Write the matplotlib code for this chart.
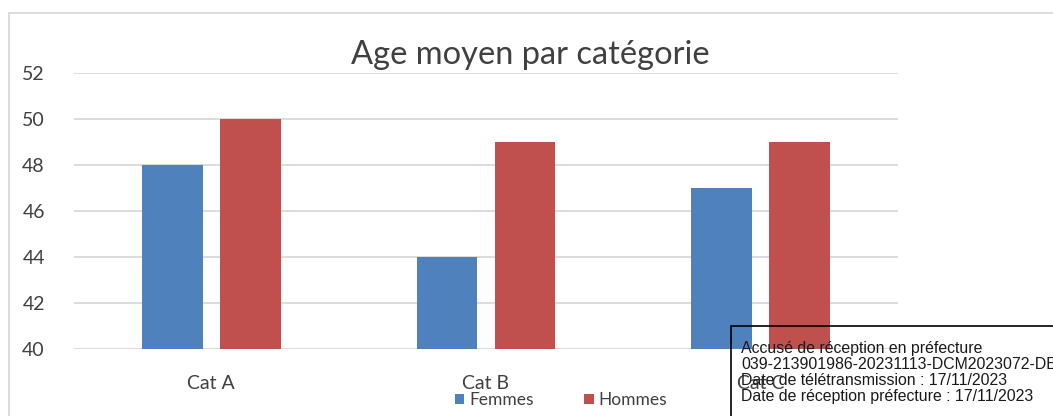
import numpy as np
import matplotlib
matplotlib.use("Agg")
from matplotlib import pyplot as plt
from matplotlib.patches import Rectangle

# valeurs
categories = ["Cat A", "Cat B", "Cat C"]
femmes = [48, 44, 47]
hommes = [50, 49, 49]
yticks = [40, 42, 44, 46, 48, 50, 52]
stamp_lines = ["Accusé de réception en préfecture",
               "039-213901986-20231113-DCM2023072-DE",
               "Date de télétransmission : 17/11/2023",
               "Date de réception préfecture : 17/11/2023"]

W, H = 1053, 416
plt.rcParams['font.family'] = ['Lato', 'DejaVu Sans']
fig = plt.figure(figsize=(W / 100, H / 100), dpi=100)

# cadre du graphique (gris clair)
fig.patches.append(Rectangle((9 / W, -0.1), 1.2, (H - 13) / H + 0.1, transform=fig.transFigure,
                             fill=False, edgecolor="#d9d9d9", linewidth=1.3))

ax = fig.add_axes([74 / W, (H - 349) / H, (898 - 74) / W, (349 - 73) / H])
x = np.arange(len(categories))
bw = 0.222
off = 0.142
ax.bar(x - off, femmes, bw, color="#4f81bd", label="Femmes", zorder=2)
ax.bar(x + off, hommes, bw, color="#c0504d", label="Hommes", zorder=2)
ax.set_xlim(-0.5, 2.5)
ax.set_ylim(40, 52)
ax.set_yticks(yticks)
ax.set_xticks(x)
ax.set_xticklabels(categories)
ax.grid(axis="y", color="#d9d9d9", linewidth=1.3, zorder=0)
for s in ax.spines.values():
    s.set_visible(False)
ax.tick_params(length=0, labelsize=14, labelcolor="#404040")
ax.tick_params(axis="x", pad=19)
ax.tick_params(axis="y", pad=21)

fig.text(530 / W, 1 - 55 / H, "Age moyen par catégorie", ha="center", va="center",
         fontsize=23.5, color="#404040")

leg = fig.legend(loc="center", bbox_to_anchor=(561 / W, 1 - 400 / H), ncol=2, frameon=False,
                 fontsize=12.5, handlelength=0.55, handleheight=0.55, handletextpad=0.3,
                 columnspacing=2.9, labelcolor="#404040")

# tampon de réception (cadre noir, transparent)
fig.patches.append(Rectangle((731 / W, -0.1), 0.5, (H - 326) / H + 0.1, transform=fig.transFigure,
                             fill=False, edgecolor="black", linewidth=1.2, zorder=10))
for i, line in enumerate(stamp_lines):
    fig.text(741 / W, 1 - (353 + 16 * i) / H, line, family=['Liberation Sans', 'DejaVu Sans'],
             fontsize=11.4, color="#1a1a1a", va="baseline", zorder=11)

fig.savefig("out.png", dpi=100)
